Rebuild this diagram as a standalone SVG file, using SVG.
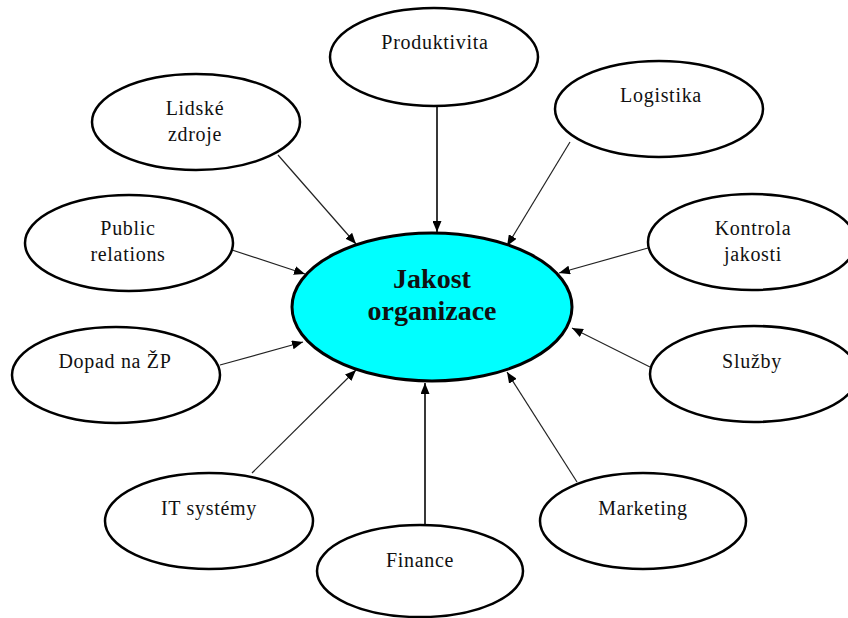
<svg xmlns="http://www.w3.org/2000/svg" width="848" height="618" viewBox="0 0 848 618">
<style>
.n{fill:#fff;stroke:#000;stroke-width:2.5}
.c{fill:#00ffff;stroke:#000;stroke-width:3}
.t{font-family:"Liberation Serif","Times New Roman",serif;font-size:20px;fill:#111;text-anchor:middle;letter-spacing:0.7px}
.tc{font-family:"Liberation Serif","Times New Roman",serif;font-size:28px;font-weight:bold;fill:#111;text-anchor:middle}
.e{stroke:#222;stroke-width:1.2;fill:none;marker-end:url(#ah)}
.e2{stroke:#222;stroke-width:1.8;fill:none;marker-end:url(#ah)}
</style>
<defs>
<marker id="ah" markerUnits="userSpaceOnUse" markerWidth="11" markerHeight="9" refX="11" refY="4.5" orient="auto" viewBox="0 0 11 9">
<path d="M0,0 L11,4.5 L0,9 Z" fill="#000"/>
</marker>
</defs>
<rect width="848" height="618" fill="#fff"/>
<g id="connectors">
<line class="e2" x1="437" y1="107" x2="437" y2="232"/>
<line class="e" x1="278" y1="155" x2="356" y2="244"/>
<line class="e" x1="229" y1="249" x2="305" y2="274"/>
<line class="e" x1="220" y1="365" x2="303" y2="342"/>
<line class="e" x1="252" y1="473" x2="356" y2="370"/>
<line class="e2" x1="425" y1="525" x2="425" y2="383"/>
<line class="e" x1="577" y1="482" x2="507" y2="372"/>
<line class="e" x1="650" y1="367" x2="572" y2="328"/>
<line class="e" x1="648" y1="248" x2="559" y2="273"/>
<line class="e" x1="570" y1="142" x2="507" y2="246"/>
</g>
<g id="center">
<ellipse class="c" cx="432" cy="307" rx="140" ry="74"/>
<text class="tc" x="432" y="288">Jakost</text>
<text class="tc" x="432" y="320">organizace</text>
</g>
<g id="produktivita">
<ellipse class="n" cx="434" cy="57" rx="104" ry="49"/>
<text class="t" x="435" y="49">Produktivita</text>
</g>
<g id="lidske-zdroje">
<ellipse class="n" cx="196" cy="122" rx="104" ry="48"/>
<text class="t" x="195" y="115">Lidské</text>
<text class="t" x="195" y="141">zdroje</text>
</g>
<g id="logistika">
<ellipse class="n" cx="659" cy="109" rx="104" ry="48"/>
<text class="t" x="661" y="102">Logistika</text>
</g>
<g id="public-relations">
<ellipse class="n" cx="129" cy="243" rx="104" ry="48"/>
<text class="t" x="128" y="235">Public</text>
<text class="t" x="128" y="261">relations</text>
</g>
<g id="kontrola-jakosti">
<ellipse class="n" cx="752" cy="242" rx="104" ry="48"/>
<text class="t" x="753" y="235">Kontrola</text>
<text class="t" x="753" y="261">jakosti</text>
</g>
<g id="dopad">
<ellipse class="n" cx="116" cy="375" rx="104" ry="48"/>
<text class="t" x="115" y="368">Dopad na ŽP</text>
</g>
<g id="sluzby">
<ellipse class="n" cx="754" cy="374" rx="104" ry="48"/>
<text class="t" x="752" y="368">Služby</text>
</g>
<g id="it-systemy">
<ellipse class="n" cx="209" cy="521" rx="104" ry="48"/>
<text class="t" x="209" y="515">IT systémy</text>
</g>
<g id="marketing">
<ellipse class="n" cx="643" cy="521" rx="103" ry="48"/>
<text class="t" x="643" y="515">Marketing</text>
</g>
<g id="finance">
<ellipse class="n" cx="420" cy="571" rx="103" ry="46"/>
<text class="t" x="420" y="567">Finance</text>
</g>
</svg>
